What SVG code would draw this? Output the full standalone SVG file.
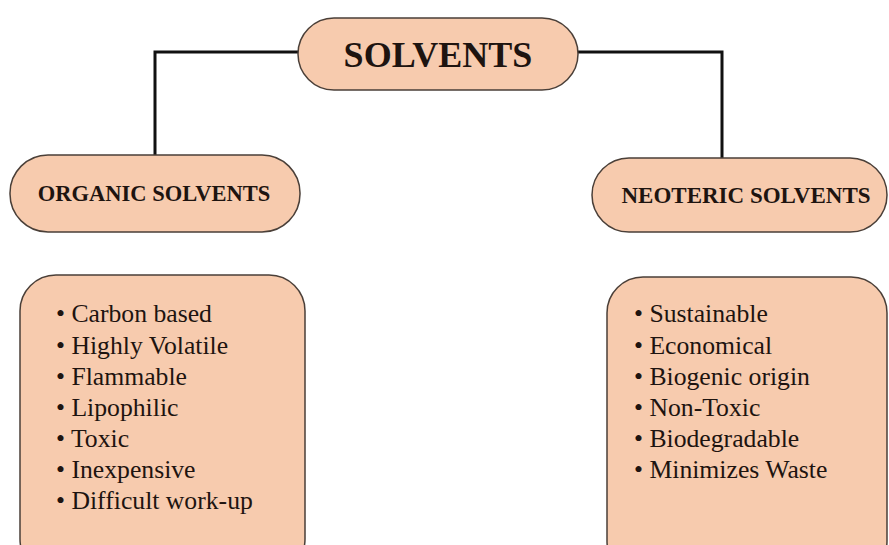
<svg xmlns="http://www.w3.org/2000/svg" width="889" height="545" viewBox="0 0 889 545">
<style>
.box{fill:#F7CBAE;stroke:#4a3f38;stroke-width:1.5}
.title{font-family:"Liberation Serif","Times New Roman",serif;font-weight:bold;fill:#1e1410;text-anchor:middle}
.item{font-family:"Liberation Serif","Times New Roman",serif;font-size:25.7px;fill:#1e1410}
.conn{fill:none;stroke:#111;stroke-width:3}
</style>
<rect width="889" height="545" fill="#fff"/>
<g id="connectors">
<polyline class="conn" points="298,52 155,52 155,156"/>
<polyline class="conn" points="578,52 722,52 722,159"/>
</g>
<g id="solvents">
<rect class="box" x="298" y="18" width="280" height="72" rx="36"/>
<text class="title" x="438" y="67" font-size="36">SOLVENTS</text>
</g>
<g id="organic">
<rect class="box" x="10" y="155" width="290" height="77" rx="38"/>
<text class="title" x="154" y="201" font-size="22.5">ORGANIC SOLVENTS</text>
</g>
<g id="neoteric">
<rect class="box" x="592" y="158" width="295" height="74" rx="37"/>
<text class="title" x="746" y="203" font-size="23">NEOTERIC SOLVENTS</text>
</g>
<g id="organic-list">
<rect class="box" x="20" y="275" width="285" height="300" rx="36"/>
<text class="item" x="56" y="322">• Carbon based</text>
<text class="item" x="56" y="354">• Highly Volatile</text>
<text class="item" x="56" y="385">• Flammable</text>
<text class="item" x="56" y="416">• Lipophilic</text>
<text class="item" x="56" y="447">• Toxic</text>
<text class="item" x="56" y="478">• Inexpensive</text>
<text class="item" x="56" y="509">• Difficult work-up</text>
</g>
<g id="neoteric-list">
<rect class="box" x="607" y="277" width="280" height="300" rx="36"/>
<text class="item" x="634" y="322">• Sustainable</text>
<text class="item" x="634" y="354">• Economical</text>
<text class="item" x="634" y="385">• Biogenic origin</text>
<text class="item" x="634" y="416">• Non-Toxic</text>
<text class="item" x="634" y="447">• Biodegradable</text>
<text class="item" x="634" y="478">• Minimizes Waste</text>
</g>
</svg>
